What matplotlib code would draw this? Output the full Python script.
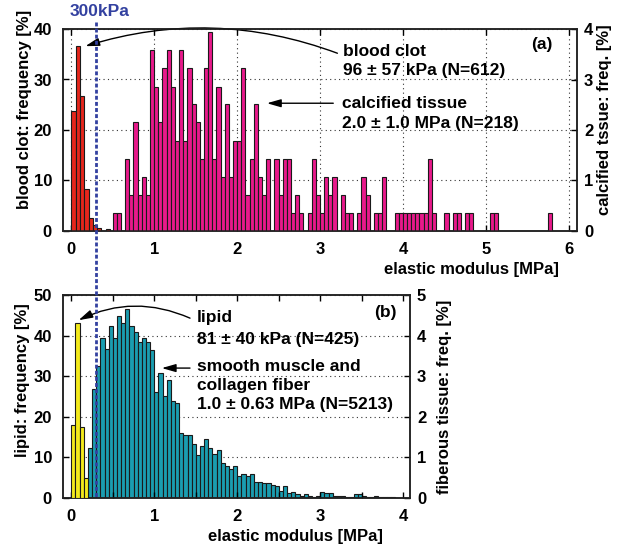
import numpy as np
import matplotlib
matplotlib.use('Agg')
import matplotlib.pyplot as plt
from matplotlib.lines import Line2D

plt.rcParams['font.family'] = ['Liberation Sans', 'DejaVu Sans']
plt.rcParams['font.weight'] = 'bold'
plt.rcParams['axes.labelweight'] = 'bold'
plt.rcParams['font.size'] = 12

# ---- data ----
# (a) blood clot, left axis [%], bins start at 0
clot_w = 0.052
clot_freq = [23.7, 36.6, 26.7, 8.3, 2.5, 1.2, 0.5, 0.0, 0.3]

# (a) calcified tissue, right axis [%], 0.05 MPa bins from 0.50
calc_start = 0.50
calc_w = 0.05
calc_freq = [0.36, 0.36, 0, 1.43, 0.72, 2.15, 0.72, 1.07, 0.72, 3.58,
             2.86, 2.15, 3.22, 3.58, 2.86, 1.79, 3.58, 1.79, 3.22, 2.51,
             2.15, 1.43, 3.22, 3.94, 1.43, 2.86, 1.07, 2.51, 1.07, 1.79,
             1.79, 3.22, 0.72, 1.43, 2.51, 1.07, 0.72, 1.43, 0, 1.43,
             0.72, 1.43, 1.43, 0.36, 0.72, 0.36, 0, 0.36, 1.43, 0.72,
             0.36, 1.07, 0.72, 1.07, 0, 0.72, 0.36, 0.36, 0, 0.36,
             1.07, 0.72, 0, 0.36, 0.36, 1.07, 0, 0, 0.36, 0.36,
             0.36, 0.36, 0.36, 0.36, 0.36, 0.36, 1.43, 0.36, 0, 0,
             0.36, 0, 0.36, 0.36, 0, 0.36, 0.36, 0, 0, 0,
             0, 0.36, 0.36, 0, 0, 0, 0, 0, 0, 0,
             0, 0, 0, 0, 0, 0.36]

# (b) lipid, left axis [%], bins start at 0
lipid_w = 0.05
lipid_freq = [17.9, 43.0, 17.5, 5.0]

# (b) smooth muscle / collagen fiber, right axis [%], 0.05 MPa bins from 0.20
fib_start = 0.20
fib_w = 0.05
fib_freq = [1.22, 2.69, 3.26, 3.94, 3.68, 4.23, 3.94, 4.48, 4.32, 4.65,
            4.23, 4.10, 3.85, 3.94, 3.85, 3.64, 2.62, 3.09, 2.51, 2.90,
            2.40, 2.33, 1.59, 1.55, 1.55, 1.34, 1.05, 1.28, 1.45, 1.22,
            1.09, 1.18, 0.85, 0.78, 0.72, 0.80, 0.55, 0.58, 0.55, 0.60,
            0.40, 0.40, 0.38, 0.38, 0.33, 0.30, 0.18, 0.30, 0.13, 0.16,
            0.09, 0.04, 0.11, 0.06, 0.02, 0.06, 0.16, 0.13, 0.13, 0.05,
            0.05, 0.06, 0.02, 0.02, 0.09, 0.09, 0.06, 0.03, 0.03, 0.05,
            0.03, 0.02, 0.02, 0.03, 0.01, 0.01]

threshold = 0.3  # MPa

red = '#e6261c'
pink = '#e8198b'
yellow = '#f3ea1c'
teal = '#1a9db0'
blue = '#3341a0'
edge = '#1a1a1a'

W, H = 630, 550
fig = plt.figure(figsize=(6.3, 5.5), dpi=100)


def px(x, y):
    return x / W, 1 - y / H


def style(ax):
    ax.tick_params(direction='in', length=4, width=1, labelsize=12, pad=7)
    for s in ax.spines.values():
        s.set_linewidth(1.1)
        s.set_color('#222222')


# ---------------- (a) ----------------
ax1 = fig.add_axes([63 / W, 1 - 231 / H, 514 / W, 202 / H])
ax1b = ax1.twinx()

x = np.arange(len(clot_freq)) * clot_w
m = np.array(clot_freq) > 0
ax1.bar(x[m], np.array(clot_freq)[m], width=clot_w, align='edge', color=red,
        edgecolor=edge, linewidth=0.8, zorder=3)
x = calc_start + np.arange(len(calc_freq)) * calc_w
m = np.array(calc_freq) > 0
ax1b.bar(x[m], np.array(calc_freq)[m], width=calc_w, align='edge', color=pink,
         edgecolor=edge, linewidth=0.8)

ax1.set_xlim(-0.1, 6.1)
ax1.set_ylim(0, 40)
ax1b.set_ylim(0, 4)
ax1.set_xticks(range(0, 7))
ax1.set_yticks([0, 10, 20, 30, 40])
ax1b.set_yticks([0, 1, 2, 3, 4])
ax1.grid(True, ls=(0, (1, 3)), color='#333333', lw=0.8)
ax1.set_axisbelow(True)
style(ax1)
style(ax1b)
ax1.tick_params(top=True, pad=8)
ax1b.tick_params(pad=5)
ax1.set_ylabel('blood clot: frequency [%]', fontsize=12)
ax1.yaxis.set_label_coords(-0.06, 0.6)
ax1b.set_ylabel('calcified tssue: freq. [%]', fontsize=12)
ax1b.yaxis.set_label_coords(1.039, 0.55)
ax1.set_xlabel('elastic modulus [MPa]', fontsize=12)
ax1.xaxis.set_label_coords(0.795, -0.155)

ax1.annotate('', xy=(0.17, 36.6), xytext=(3.21, 35.2),
             arrowprops=dict(arrowstyle='-|>,head_length=0.7,head_width=0.2',
                             connectionstyle='arc3,rad=0.17', color='k', lw=1,
                             shrinkA=0, shrinkB=0))
ax1.annotate('', xy=(2.36, 25.3), xytext=(3.16, 25.3),
             arrowprops=dict(arrowstyle='-|>,head_length=0.7,head_width=0.2',
                             color='k', lw=1, shrinkA=0, shrinkB=0))

fig.text(*px(343, 56), 'blood clot', fontsize=12.5, va='baseline')
fig.text(*px(343, 75), '96 ± 57 kPa (N=612)', fontsize=12.5, va='baseline')
fig.text(*px(342, 108), 'calcified tissue', fontsize=12.5, va='baseline')
fig.text(*px(342, 128), '2.0 ± 1.0 MPa (N=218)', fontsize=12.5, va='baseline')
fig.text(*px(552, 49), '(a)', fontsize=12.5, va='baseline', ha='right')

# ---------------- (b) ----------------
ax2 = fig.add_axes([63 / W, 1 - 498 / H, 347 / W, 203 / H])
ax2b = ax2.twinx()

x = fib_start + np.arange(len(fib_freq)) * fib_w
ax2b.bar(x, fib_freq, width=fib_w, align='edge', color=teal,
         edgecolor=edge, linewidth=0.8)
x = np.arange(len(lipid_freq)) * lipid_w
ax2.bar(x, lipid_freq, width=lipid_w, align='edge', color=yellow,
        edgecolor=edge, linewidth=0.8, zorder=3)
ax2.set_zorder(ax2b.get_zorder() + 1)
ax2.patch.set_visible(False)

ax2.set_xlim(-0.1, 4.08)
ax2.set_ylim(0, 50)
ax2b.set_ylim(0, 5)
ax2.set_xticks(np.arange(0, 4.01, 0.5))
ax2.set_xticklabels(['0', '', '1', '', '2', '', '3', '', '4'])
ax2.set_yticks([0, 10, 20, 30, 40, 50])
ax2b.set_yticks([0, 1, 2, 3, 4, 5])
ax2b.grid(True, axis='both', ls=(0, (1, 3)), color='#333333', lw=0.8)
ax2b.set_axisbelow(True)
style(ax2)
style(ax2b)
ax2.tick_params(top=True, pad=8)
ax2b.tick_params(pad=5)
ax2.set_ylabel('lipid: frequency [%]', fontsize=12)
ax2.yaxis.set_label_coords(-0.095, 0.58)
ax2b.set_ylabel('fiberous tissue: freq. [%]', fontsize=12)
ax2b.yaxis.set_label_coords(1.078, 0.5)
ax2.set_xlabel('elastic modulus [MPa]', fontsize=12)
ax2.xaxis.set_label_coords(0.67, -0.152)

ax2.annotate('', xy=(0.088, 43.8), xytext=(1.43, 44.3),
             arrowprops=dict(arrowstyle='-|>,head_length=0.7,head_width=0.2',
                             connectionstyle='arc3,rad=0.23', color='k', lw=1,
                             shrinkA=0, shrinkB=0))
ax2.annotate('', xy=(1.09, 32.0), xytext=(1.43, 32.0),
             arrowprops=dict(arrowstyle='-|>,head_length=0.7,head_width=0.2',
                             color='k', lw=1, shrinkA=0, shrinkB=0))

fig.text(*px(197, 322), 'lipid', fontsize=12.5, va='baseline')
fig.text(*px(197, 344), '81 ± 40 kPa (N=425)', fontsize=12.5, va='baseline')
fig.text(*px(197, 371), 'smooth muscle and', fontsize=12.5, va='baseline')
fig.text(*px(197, 390), 'collagen fiber', fontsize=12.5, va='baseline')
fig.text(*px(197, 409), '1.0 ± 0.63 MPa (N=5213)', fontsize=12.5, va='baseline')
fig.text(*px(397, 317), '(b)', fontsize=12.5, va='baseline', ha='right')

# ---------------- 300 kPa line across both panels ----------------
xd = ax1.transData.transform((threshold, 0))[0]
xf = fig.transFigure.inverted().transform((xd, 0))[0]
fig.add_artist(Line2D([xf, xf], [1 - 22 / H, 1 - 498 / H], transform=fig.transFigure,
                      color=blue, lw=2, ls=(0, (1.4, 0.8)), zorder=10))
fig.text(xf + 3 / W, 1 - 12 / H, '300kPa', color=blue, fontsize=12.5,
         ha='center', va='center')

fig.savefig('out.png', dpi=100)
